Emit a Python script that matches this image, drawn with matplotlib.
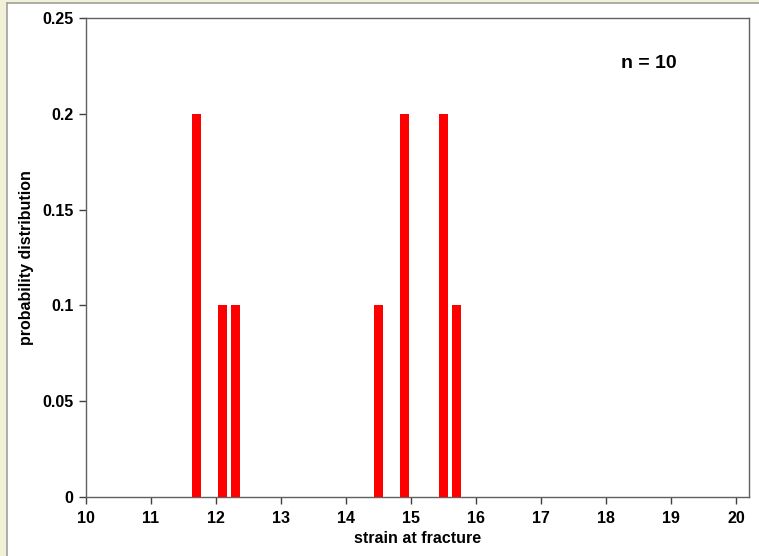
import numpy as np
import matplotlib
matplotlib.use("Agg")
import matplotlib.pyplot as plt
from matplotlib.patches import Rectangle

plt.rcParams['font.family'] = ['Liberation Sans', 'DejaVu Sans']
plt.rcParams['font.weight'] = 'bold'

# strain values and their probability
strain = [11.7, 12.1, 12.3, 14.5, 14.9, 15.5, 15.7]
prob = [0.2, 0.1, 0.1, 0.1, 0.2, 0.2, 0.1]
xticks = [10, 11, 12, 13, 14, 15, 16, 17, 18, 19, 20]
yticks = [0, 0.05, 0.1, 0.15, 0.2, 0.25]
yticklabels = ['0', '0.05', '0.1', '0.15', '0.2', '0.25']

fig = plt.figure(figsize=(7.59, 5.56), dpi=100)
fig.patch.set_facecolor('#f2f0d6')
# white panel with grey edge on top/left
fig.patches.append(Rectangle((7/759, 0), 1, 1 - 3/556, transform=fig.transFigure,
                             facecolor='white', edgecolor='none', zorder=-10))
fig.lines.append(plt.Line2D([7/759, 7/759], [0, 1 - 3/556], transform=fig.transFigure,
                            color='#a0a0a0', lw=1.2, zorder=-5))
fig.lines.append(plt.Line2D([7/759, 1], [1 - 3/556, 1 - 3/556], transform=fig.transFigure,
                            color='#a0a0a0', lw=1.2, zorder=-5))

ax = fig.add_axes([86/759, 59/556, 663/759, 479/556])
ax.set_zorder(1)
ax.bar(strain, prob, width=0.13, color='#ff0000', zorder=3)

ax.set_xlim(10, 20.2)
ax.set_ylim(0, 0.25)
ax.set_xticks(xticks)
ax.set_yticks(yticks)
ax.set_yticklabels(yticklabels)
ax.tick_params(direction='out', length=5, width=1, color='#404040',
               labelsize=11.5, pad=4)
ax.tick_params(axis='x', pad=5)
for s in ax.spines.values():
    s.set_color('#606060')
    s.set_linewidth(1)

ax.set_xlabel('strain at fracture', fontsize=11.5, fontweight='bold', labelpad=4)
ax.set_ylabel('probability distribution', fontsize=11.5, fontweight='bold', labelpad=6)
ax.text(649, 556 - 63, 'n = 10', transform=None, fontsize=14, fontweight='bold',
        ha='center', va='center')

fig.savefig('out.png', dpi=100, facecolor=fig.get_facecolor())
